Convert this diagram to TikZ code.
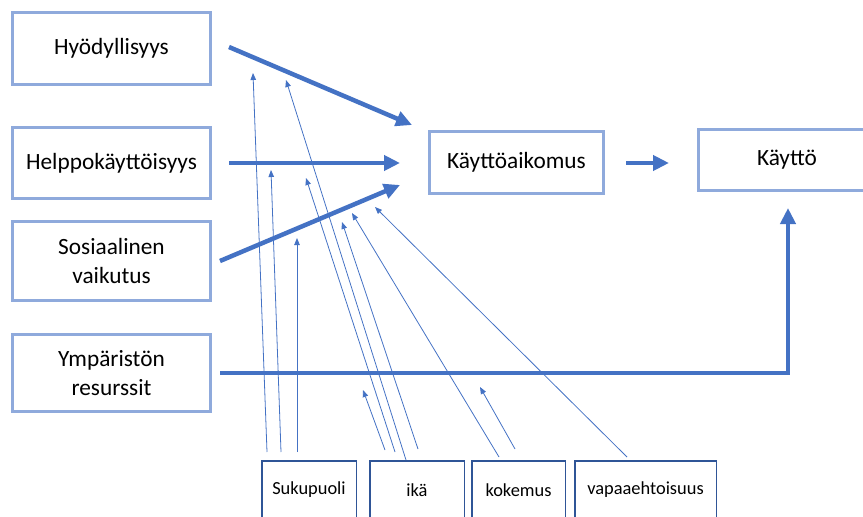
\documentclass[tikz,border=0pt]{standalone}
\usepackage{fontspec}
\setmainfont{Carlito}
\usetikzlibrary{arrows.meta}
\definecolor{boxline}{HTML}{8FAADC}
\definecolor{darkline}{HTML}{2F5597}
\definecolor{flow}{HTML}{4472C4}
\tikzset{
  factor/.style={draw=boxline, line width=3pt, minimum width=198pt, inner sep=0pt, align=center, font=\fontsize{23.3}{28.5}\selectfont},
  moderator/.style={draw=darkline, line width=1.5pt, minimum height=58.5pt, inner sep=0pt, font=\fontsize{18.4}{22}\selectfont},
  bigarrow/.style={flow, line width=4.5pt, -{Triangle[length=16pt,width=15pt]}},
  fine/.style={flow, line width=0.8pt, -{Triangle[length=7pt,width=5.5pt]}}
}
\begin{document}
\begin{tikzpicture}[x=1pt, y=-1pt]
    \clip (0,0) rectangle (863,517);
    % factors
    \node[factor, minimum height=72pt] (hyoty) at (111.5,48.5) {Hyödyllisyys};
    \node[factor, minimum height=71pt] (helppo) at (111.5,163) {Helppokäyttöisyys};
    \node[factor, minimum height=79pt] (sosiaali) at (111.5,261) {Sosiaalinen\\vaikutus};
    \node[factor, minimum height=77pt] (ymparisto) at (111.5,373) {Ympäristön\\resurssit};
    \node[factor, minimum width=174pt, minimum height=62pt] (aikomus) at (516.5,162.5) {Käyttöaikomus};
    \node[factor, minimum width=177pt, minimum height=61pt] (kaytto) at (787,160) {Käyttö};
    % moderators
    \node[moderator, minimum width=94.5pt] (suku) at (309,490) {Sukupuoli};
    \node[moderator, minimum width=94.5pt] (ika) at (417,490) {ikä};
    \node[moderator, minimum width=93.5pt] (kokemus) at (518.5,490) {kokemus};
    \node[moderator, minimum width=141.5pt] (vapaa) at (645.5,490) {vapaaehtoisuus};
    % end points of the moderator lines
    \foreach \n/\x/\y in {su1/267/452, su2/281/452, su3/297/452, ik1/385/450, ik2/395/452, ik3/406/460, ik4/418/449,
        ko1/499/457, ko2/515/449, va1/627/457,
        t1/253/73, t2/271/170, t3/297/238, t4/363/390, t5/306/178, t6/286/80, t7/342/222, t8/352/213, t9/480/387, t10/375/207}
        \coordinate (\n) at (\x,\y);
    \foreach \a/\b in {su1/t1, su2/t2, su3/t3, ik1/t4, ik2/t5, ik3/t6, ik4/t7, ko1/t8, ko2/t9, va1/t10}
        \draw[fine] (\a) -- (\b);
    % main paths
    \coordinate (h0) at (229,47);  \coordinate (h1) at (412,125);
    \coordinate (p0) at (229,163); \coordinate (p1) at (400,163);
    \coordinate (s0) at (220,261); \coordinate (s1) at (400,185);
    \coordinate (y0) at (220,373); \coordinate (y1) at (788,208);
    \coordinate (a0) at (626,163); \coordinate (a1) at (669,163);
    \draw[bigarrow] (h0) -- (h1);
    \draw[bigarrow] (p0) -- (p1);
    \draw[bigarrow] (s0) -- (s1);
    \draw[bigarrow] (y0) -| (y1);
    \draw[bigarrow] (a0) -- (a1);
\end{tikzpicture}
\end{document}
